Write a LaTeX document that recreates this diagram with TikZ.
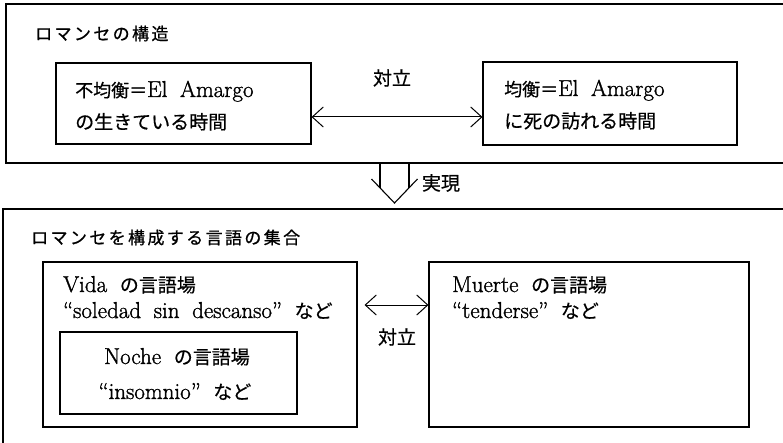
\documentclass[tikz,border=0pt]{standalone}
\usepackage{fontspec}
\newfontfamily\latfam{Latin Modern Roman}[FakeBold=1.3,Ligatures=TeX]
\newfontfamily\jp{Noto Sans CJK JP}[FakeBold=0.5]
\newfontfamily\jph{Noto Sans CJK JP}[LetterSpace=14,FakeBold=0.8]
\usetikzlibrary{arrows.meta}
\newcommand\latf{\latfam\fontsize{23}{27}\selectfont}
\newcommand\jpf{\jp\fontsize{19}{22}\selectfont}
\newcommand\J[1]{{\jpf #1}}
\newcommand\JH[1]{{\jph\fontsize{17}{20}\selectfont #1}}
\newcommand\wsp{\hspace{0.55em}}
\begin{document}
\begin{tikzpicture}[x=1pt,y=-1pt,
  box/.style={draw, line width=1.1pt, inner sep=0pt},
  txt/.style={inner sep=0pt, anchor=base west, font=\latf},
  ctxt/.style={inner sep=0pt, anchor=base, font=\latf},
  dbl/.style={line width=1pt, {Straight Barb[length=11pt,width=20pt]}-{Straight Barb[length=11pt,width=20pt]}},
  outer/.style={line width=1.2pt}]
\useasboundingbox (0,0) rectangle (783,443);
\clip (0,0) rectangle (783,443);
% outer frames
\draw[outer] (790,4) -- (6,4) -- (6,163) -- (790,163);
\draw[outer] (790,209) -- (3,209) -- (3,450);
% top section
\node[txt] (title1) at (35,40) {\JH{ロマンセの構造}};
\node[box, minimum width=255, minimum height=81] (L) at (183.5,103.5) {};
\node[box, minimum width=254, minimum height=83] (R) at (610,103.5) {};
\node[txt] (l1) at (75,97) {{\jpf\fontsize{18}{22}\selectfont 不均衡＝}El\wsp Amargo};
\node[txt] (l2) at (75,129) {\J{の生きている時間}};
\node[txt] (r1) at (504,96) {{\jpf\fontsize{18}{22}\selectfont 均衡＝}El\wsp Amargo};
\node[txt] (r2) at (504,128) {\J{に死の訪れる時間}};
\draw[dbl] ([yshift=-13.5pt]L.east) -- ([yshift=-13.5pt]R.west);
\node[inner sep=0pt] (opp1) at (392,78) {\J{対立}};
% realization arrow
\draw[line width=1.1pt] (380,163) -- (380,187.9);
\draw[line width=1.1pt] (409,163) -- (409,187.9);
\draw[line width=1.1pt] (371.5,179) -- (394.5,203) -- (417.5,179);
\node[inner sep=0pt] (real) at (441,183) {\J{実現}};
% bottom section
\node[txt] (title2) at (31,244) {\JH{ロマンセを構成する言語の集合}};
\node[box, minimum width=314, minimum height=165] (V) at (200,344.5) {};
\node[box, minimum width=237, minimum height=82] (N) at (178.5,373) {};
\node[box, minimum width=320, minimum height=165] (M) at (589,344.5) {};
\node[txt] (v1) at (63,292) {Vida\wsp\J{の言語場}};
\node[txt] (v2) at (63,318) {“soledad\wsp sin\wsp descanso”\wsp\J{など}};
\node[ctxt] (n1) at (177,364) {Noche\wsp\J{の言語場}};
\node[ctxt] (n2) at (175,399) {“insomnio”\wsp\J{など}};
\node[txt] (m1) at (452,292) {Muerte\wsp\J{の言語場}};
\node[txt] (m2) at (452,318) {“tenderse”\wsp\J{など}};
\draw[dbl, shorten <=7pt] ([yshift=39.5pt]V.east) -- ([yshift=39.5pt]M.west);
\node[inner sep=0pt] (opp2) at (397,337) {\J{対立}};
\end{tikzpicture}
\end{document}
